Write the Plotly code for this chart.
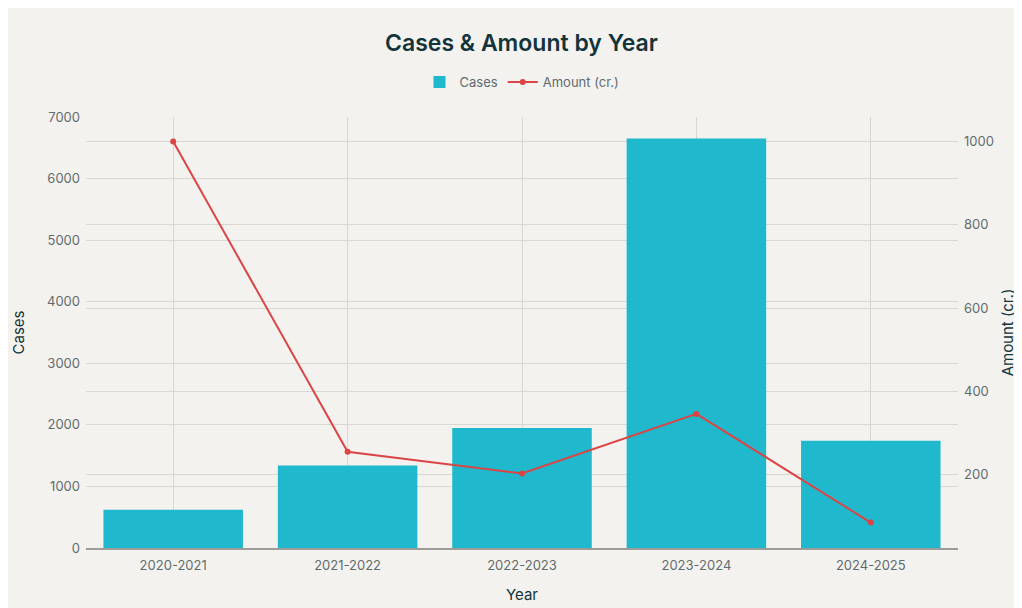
import plotly.graph_objects as go

years = ["2020-2021", "2021-2022", "2022-2023", "2023-2024", "2024-2025"]
cases = [620, 1340, 1950, 6650, 1740]
amount = [1000, 255, 203, 346, 85]

BG = "#F3F2EE"
TEAL = "#1FB8CD"
RED = "#DB4545"
DARK = "#13343B"
GRID = "#D8D7D2"
TICK = "#626C6E"
FONT = "Inter"

fig = go.Figure()
fig.add_trace(go.Bar(x=years, y=cases, name="Cases", marker_color=TEAL,
                     marker_line_width=0, yaxis="y"))
fig.add_trace(go.Scatter(x=years, y=amount, name="Amount (cr.)", mode="lines+markers",
                         line=dict(color=RED, width=2), marker=dict(color=RED, size=6),
                         yaxis="y2"))

# the page places the figure at an 8px offset
W, H = 1014, 600
l, t = 77.5, 109
r = W - 950
b = H - 540.3
ph = H - t - b

fig.update_layout(
    width=W, height=H,
    margin=dict(l=l, r=r, t=t, b=b, autoexpand=False),
    paper_bgcolor=BG, plot_bgcolor=BG,
    font=dict(family=FONT, size=13, color=TICK),
    title=dict(text="Cases & Amount by Year", x=(l + 436) / W, xanchor="center",
               y=1 - 35 / H, yanchor="middle", yref="container",
               font=dict(family=FONT, size=23, color=DARK, weight=600)),
    legend=dict(orientation="h", x=0.5, xanchor="center", y=(H - b - 74) / ph,
                yanchor="middle", font=dict(size=13, color=TICK),
                bgcolor="rgba(0,0,0,0)"),
    bargap=0.2,
    showlegend=True,
    xaxis=dict(title=dict(text="Year", standoff=17, font=dict(size=15, color=DARK)),
               showgrid=True, gridcolor=GRID, showline=True, linecolor="#9C9C98",
               linewidth=1.5, ticks="", ticklabelstandoff=5,
               tickfont=dict(size=13, color=TICK)),
    yaxis=dict(title=dict(text="Cases", standoff=18, font=dict(size=15, color=DARK)),
               range=[0, 7000], dtick=1000, showgrid=True, gridcolor=GRID,
               zeroline=False, showline=False, ticklabelstandoff=5,
               tickfont=dict(size=13, color=TICK)),
    yaxis2=dict(title=dict(text="Amount (cr.)", standoff=9, font=dict(size=15, color=DARK)),
                overlaying="y", side="right", range=[24, 1059], dtick=200,
                showgrid=True, gridcolor=GRID, zeroline=False, showline=False,
                ticklabelstandoff=5, tickfont=dict(size=13, color=TICK)),
)

fig.write_html("out.html")
